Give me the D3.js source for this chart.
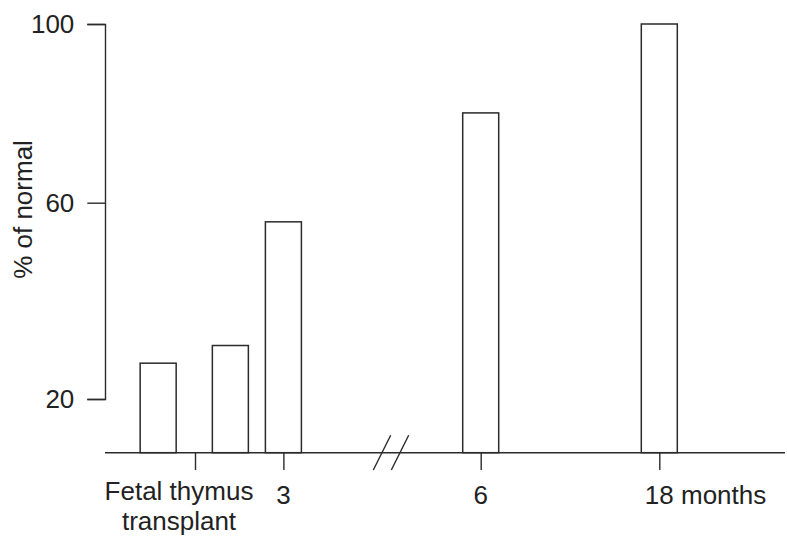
<!DOCTYPE html>
<html>
<head>
<meta charset="utf-8">
<script src="https://cdn.jsdelivr.net/npm/d3@7/dist/d3.min.js"></script>
<style>
  html, body { margin: 0; padding: 0; background: #fff; }
  svg { display: block; }
  text { font-family: "Liberation Sans", Arial, Helvetica, sans-serif; fill: #222; }
</style>
</head>
<body>
<svg id="chart" width="787" height="539"></svg>
<script>
// Time points (months relative to the fetal thymus transplant)
const timepoints = [-1.25, 1.2, 3, 6, 18];
// Percentage of normal at each time point
const percentNormal = [27.3, 30.9, 56.1, 80.1, 100];
// Axis ticks and their labels
const yTicks = [20, 60, 100];
const xTicks = [0, 3, 6, 18];
const xTickLabels = ["Fetal thymus\ntransplant", "3", "6", "18 months"];
const yTitle = "% of normal";

const svg = d3.select("#chart");
const ink = "#2b2b2b";
const fontSize = 26;

// Vertical scale (segmented, as printed on the original axis)
const y = d3.scaleLinear()
  .domain([20, 60, 100])
  .range([399, 202.7, 24]);
const yBase = 9.06;              // value at the bottom of the plot (x-axis level)
const baseY = y(yBase);

// Horizontal time scale with a break between 3 and 6 months
const x = d3.scaleLinear()
  .domain([0, 3, 6, 18])
  .range([195, 283.4, 480.7, 659.3]);

const axisLeftX = 105;
const axisRightX = 785;
const barW = 36;

// Y axis
const yAxis = d3.axisLeft(y)
  .tickValues(yTicks)
  .tickSizeOuter(0)
  .tickSize(17.7)
  .tickPadding(13);
const gy = svg.append("g")
  .attr("transform", `translate(${axisLeftX},0)`)
  .call(yAxis);
gy.selectAll("path, line").attr("stroke", ink).attr("stroke-width", 1.4);
gy.selectAll("text")
  .attr("font-size", fontSize)
  .attr("font-family", "Liberation Sans, Arial, sans-serif")
  .attr("fill", "#222");

// Y axis title
svg.append("text")
  .attr("transform", `translate(32,209.5) rotate(-90)`)
  .attr("text-anchor", "middle")
  .attr("font-size", fontSize)
  .text(yTitle);

// X baseline
svg.append("line")
  .attr("x1", axisLeftX).attr("x2", axisRightX)
  .attr("y1", baseY).attr("y2", baseY)
  .attr("stroke", ink).attr("stroke-width", 1.4);

// X ticks
const xAxis = d3.axisBottom(x)
  .tickValues(xTicks)
  .tickSizeOuter(0)
  .tickSize(17.3)
  .tickFormat("");
const gx = svg.append("g")
  .attr("transform", `translate(0,${baseY})`)
  .call(xAxis);
gx.select(".domain").remove();
gx.selectAll("line").attr("stroke", ink).attr("stroke-width", 1.4);

// X tick labels
xTicks.forEach((t, i) => {
  const label = xTickLabels[i];
  const lines = label.split("\n");
  if (lines.length > 1) {
    const txt = svg.append("text")
      .attr("text-anchor", "middle")
      .attr("font-size", fontSize);
    lines.forEach((ln, j) => {
      txt.append("tspan")
        .attr("x", x(t) - 16)
        .attr("y", baseY + 47.5 + j * 30)
        .text(ln);
    });
  } else if (label.indexOf(" ") > 0) {
    // number centred on the tick, unit trailing to the right
    const num = label.split(" ")[0];
    const probe = svg.append("text").attr("font-size", fontSize).text(num);
    const w = probe.node().getComputedTextLength();
    probe.remove();
    svg.append("text")
      .attr("x", x(t) - w / 2)
      .attr("y", baseY + 51.5)
      .attr("font-size", fontSize)
      .text(label);
  } else {
    svg.append("text")
      .attr("x", x(t))
      .attr("y", baseY + 51.5)
      .attr("text-anchor", "middle")
      .attr("font-size", fontSize)
      .text(label);
  }
});

// Axis break marks between 3 and 6 months
const breakX = 391;
[-9, 9].forEach(dx => {
  svg.append("line")
    .attr("x1", breakX + dx - 8.7).attr("y1", baseY + 17.3)
    .attr("x2", breakX + dx + 8.7).attr("y2", baseY - 17.4)
    .attr("stroke", ink).attr("stroke-width", 1.4);
});

// Bars
svg.append("g")
  .selectAll("rect")
  .data(timepoints.map((t, i) => ({ t, v: percentNormal[i] })))
  .join("rect")
  .attr("x", d => x(d.t) - barW / 2)
  .attr("y", d => y(d.v))
  .attr("width", barW)
  .attr("height", d => baseY - y(d.v))
  .attr("fill", "#fff")
  .attr("stroke", ink)
  .attr("stroke-width", 1.5);
</script>
</body>
</html>
